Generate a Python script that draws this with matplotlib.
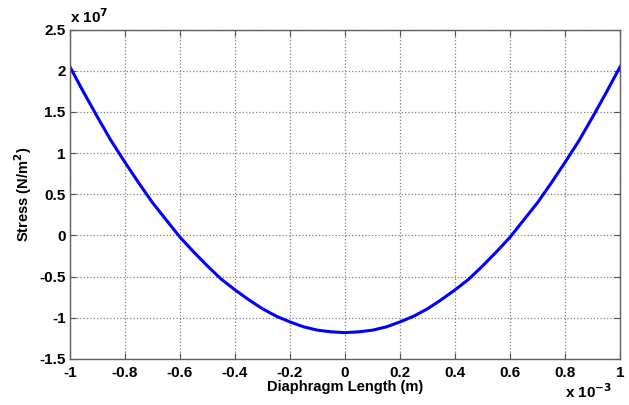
import matplotlib
matplotlib.use("Agg")
import matplotlib.pyplot as plt
from matplotlib.ticker import FuncFormatter, MultipleLocator

plt.rcParams["font.family"] = ["Liberation Sans", "DejaVu Sans"]
plt.rcParams["axes.unicode_minus"] = False

# diaphragm position in units of 1e-3 m, stress in units of 1e7 N/m^2
length_mm = [-1.0, -0.95, -0.9, -0.85, -0.8, -0.75, -0.7, -0.65, -0.6, -0.55,
             -0.5, -0.45, -0.4, -0.35, -0.3, -0.25, -0.2, -0.15, -0.1, -0.05,
             0.0, 0.05, 0.1, 0.15, 0.2, 0.25, 0.3, 0.35, 0.4, 0.45,
             0.5, 0.55, 0.6, 0.65, 0.7, 0.75, 0.8, 0.85, 0.9, 0.95, 1.0]
stress_e7 = [2.05, 1.74, 1.44, 1.15, 0.89, 0.64, 0.40, 0.19, -0.02, -0.20,
             -0.37, -0.53, -0.66, -0.78, -0.89, -0.98, -1.05, -1.11, -1.15, -1.17,
             -1.18, -1.17, -1.15, -1.11, -1.05, -0.98, -0.89, -0.78, -0.66, -0.53,
             -0.37, -0.20, -0.02, 0.19, 0.40, 0.64, 0.89, 1.15, 1.44, 1.74, 2.05]

fig = plt.figure(figsize=(6.29, 4.05), dpi=100)
ax = fig.add_axes([0.111, 0.1136, 0.875, 0.8134])

ax.plot(length_mm, stress_e7, color="#0000ff", linewidth=2.2)

ax.set_xlim(-1, 1)
ax.set_ylim(-1.5, 2.5)
ax.xaxis.set_major_locator(MultipleLocator(0.2))
ax.yaxis.set_major_locator(MultipleLocator(0.5))
fmt = FuncFormatter(lambda v, _: f"{v:g}" if abs(v) > 1e-9 else "0")
ax.xaxis.set_major_formatter(fmt)
ax.yaxis.set_major_formatter(fmt)

ax.grid(True, linestyle=":", color="#808080", linewidth=0.9)
ax.tick_params(direction="in", top=True, right=True, length=4, width=0.8,
               color="#505050", labelsize=11)
for lab in ax.get_xticklabels() + ax.get_yticklabels():
    lab.set_fontweight("bold")
ax.tick_params(axis="x", pad=5)
ax.tick_params(axis="y", pad=3)
for s in ax.spines.values():
    s.set_color("#606060")
    s.set_linewidth(1.0)

ax.set_xlabel("Diaphragm Length (m)", fontsize=10.5, fontweight="bold", labelpad=0)
ax.set_ylabel("Stress (N/m$^\\mathbf{2}$)", fontsize=10.5, fontweight="bold", labelpad=4)

ax.text(0.0, 1.012, "x 10$^\\mathbf{7}$", transform=ax.transAxes, fontsize=11,
        fontweight="bold", ha="left", va="bottom")
ax.text(0.985, -0.117, "x 10$^\\mathbf{-3}$", transform=ax.transAxes, fontsize=11,
        fontweight="bold", ha="right", va="baseline")

fig.savefig("out.png", dpi=100)
